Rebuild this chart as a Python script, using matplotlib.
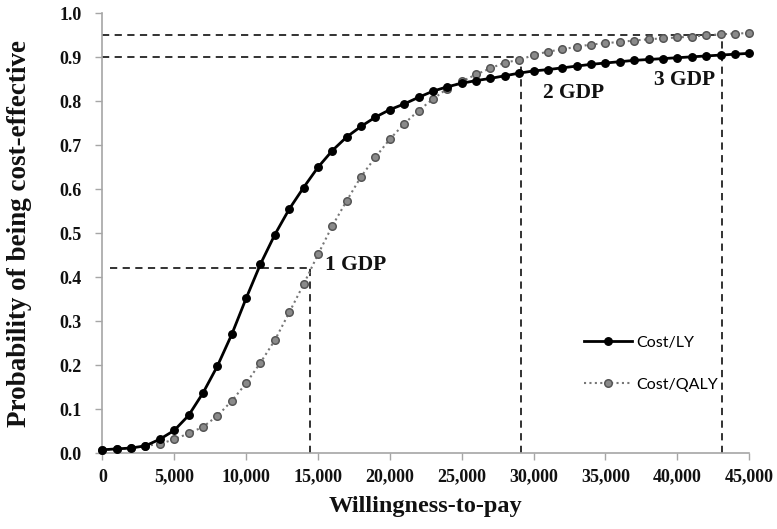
import matplotlib
matplotlib.use("Agg")
import matplotlib.pyplot as plt

wtp = [0, 1000, 2000, 3000, 4000, 5000, 6000, 7000, 8000, 9000,
       10000, 11000, 12000, 13000, 14000, 15000, 16000, 17000, 18000, 19000,
       20000, 21000, 22000, 23000, 24000, 25000, 26000, 27000, 28000, 29000,
       30000, 31000, 32000, 33000, 34000, 35000, 36000, 37000, 38000, 39000,
       40000, 41000, 42000, 43000, 44000, 45000]

cost_ly = [0.008, 0.010, 0.012, 0.017, 0.032, 0.052, 0.086, 0.137, 0.198, 0.270,
           0.352, 0.430, 0.497, 0.555, 0.604, 0.650, 0.688, 0.719, 0.743, 0.764,
           0.781, 0.794, 0.809, 0.823, 0.833, 0.841, 0.847, 0.852, 0.858, 0.864,
           0.869, 0.872, 0.876, 0.880, 0.884, 0.887, 0.890, 0.893, 0.895, 0.897,
           0.899, 0.901, 0.903, 0.905, 0.907, 0.909]

cost_qaly = [0.008, 0.010, 0.012, 0.017, 0.021, 0.032, 0.045, 0.060, 0.085, 0.119,
             0.159, 0.206, 0.257, 0.320, 0.384, 0.452, 0.517, 0.574, 0.629, 0.673,
             0.714, 0.749, 0.779, 0.805, 0.829, 0.845, 0.861, 0.875, 0.888, 0.894,
             0.905, 0.913, 0.918, 0.924, 0.929, 0.932, 0.935, 0.938, 0.941, 0.943,
             0.945, 0.947, 0.950, 0.952, 0.954, 0.955]

gdp_labels = ["1 GDP", "2 GDP", "3 GDP"]
gdp_wtp = [14430, 29150, 43110]
gdp_prob = [0.422, 0.90, 0.95]
gdp_hline_start = [500, 0, 0]
gdp_label_pos = [(15500, 0.428), (30650, 0.818), (38400, 0.848)]

xticks = [0, 5000, 10000, 15000, 20000, 25000, 30000, 35000, 40000, 45000]
yticks = [0.0, 0.1, 0.2, 0.3, 0.4, 0.5, 0.6, 0.7, 0.8, 0.9, 1.0]

fig = plt.figure(figsize=(7.77, 5.29), dpi=100)
ax = fig.add_axes([0.1317, 0.1431, 0.8326, 0.8318])

serif = "Liberation Serif"
dash_kw = dict(color="#222222", lw=1.3, ls=(0, (4, 3)), zorder=1)

# reference lines
for x, p, xs in zip(gdp_wtp, gdp_prob, gdp_hline_start):
    ax.plot([xs, x], [p, p], **dash_kw)
    ax.plot([x, x], [0, p], **dash_kw)

ax.plot(wtp, cost_ly, color="black", lw=2.0, marker="o", ms=5.4,
        mfc="black", mec="black", clip_on=False, zorder=3, label="Cost/LY")
ax.plot(wtp, cost_qaly, color="#777777", lw=1.5, ls=(0, (1, 1.6)), marker="o", ms=5.4,
        mfc="#8a8a8a", mec="#555555", mew=1.1, clip_on=False, zorder=2, label="Cost/QALY")

for lab, (lx, ly) in zip(gdp_labels, gdp_label_pos):
    ax.text(lx, ly, lab, fontfamily=serif, fontweight="bold", fontsize=15.5,
            ha="left", va="center", color="#111111")

ax.set_xlim(0, 45000)
ax.set_ylim(0, 1.0)
ax.set_xticks(xticks)
ax.set_xticklabels([f"{v:,}" for v in xticks])
ax.set_yticks(yticks)
ax.set_yticklabels([f"{v:.1f}" for v in yticks])
for lbl in ax.get_xticklabels() + ax.get_yticklabels():
    lbl.set_fontfamily(serif)
    lbl.set_fontweight("bold")
    lbl.set_fontsize(13)
    lbl.set_color("#111111")

ax.tick_params(axis="both", direction="out", length=5, width=1, color="#a6a6a6")
ax.tick_params(axis="x", pad=6)
ax.tick_params(axis="y", pad=10)
for s in ["top", "right"]:
    ax.spines[s].set_visible(False)
for s in ["left", "bottom"]:
    ax.spines[s].set_color("#a6a6a6")
    ax.spines[s].set_linewidth(1.2)

ax.set_xlabel("Willingness-to-pay", fontfamily=serif, fontweight="bold", fontsize=17.5,
              color="#111111")
ax.xaxis.set_label_coords(0.5, -0.098)
ax.set_ylabel("Probability of being cost-effective", fontfamily=serif, fontweight="bold",
              fontsize=19.5, color="#111111")
ax.yaxis.set_label_coords(-0.108, 0.5)

leg = ax.legend(loc="upper left", bbox_to_anchor=(0.722, 0.30), frameon=False,
                prop={"family": "Lato", "size": 11.5}, handlelength=3.0,
                handletextpad=0.3, labelspacing=1.75)

fig.savefig("out.png", dpi=100)
